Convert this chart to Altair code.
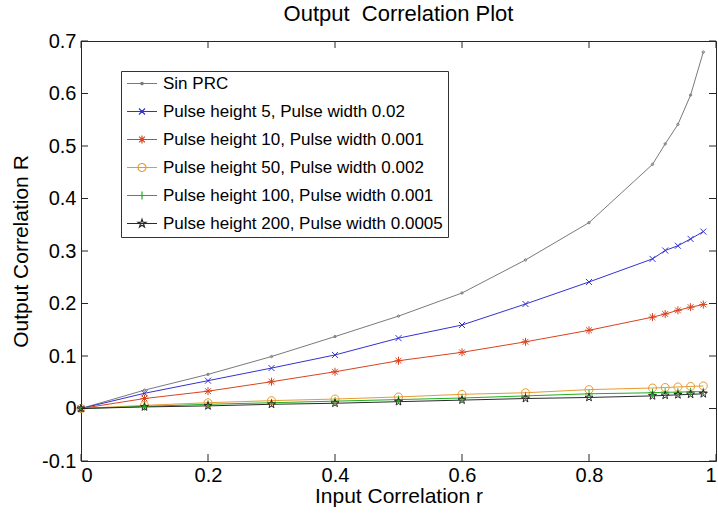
import math
import altair as alt
import pandas as pd

# Input correlation values (x) shared by every curve
r = [0, 0.1, 0.2, 0.3, 0.4, 0.5, 0.6, 0.7, 0.8, 0.9, 0.92, 0.94, 0.96, 0.98]

# Output correlation for each phase response curve
sin_prc = [0, 0.035, 0.065, 0.099, 0.137, 0.176, 0.220, 0.283, 0.354, 0.465, 0.504, 0.541, 0.597, 0.679]
pulse_5 = [0, 0.029, 0.053, 0.077, 0.102, 0.134, 0.159, 0.199, 0.241, 0.285, 0.301, 0.310, 0.323, 0.337]
pulse_10 = [0, 0.019, 0.033, 0.051, 0.070, 0.091, 0.107, 0.127, 0.149, 0.174, 0.180, 0.187, 0.193, 0.198]
pulse_50 = [0, 0.006, 0.011, 0.015, 0.018, 0.022, 0.027, 0.030, 0.036, 0.039, 0.040, 0.041, 0.042, 0.043]
pulse_100 = [0, 0.004, 0.008, 0.011, 0.014, 0.017, 0.020, 0.024, 0.028, 0.030, 0.031, 0.031, 0.032, 0.032]
pulse_200 = [0, 0.003, 0.005, 0.008, 0.010, 0.013, 0.016, 0.019, 0.021, 0.024, 0.025, 0.026, 0.027, 0.028]

series_names = [
    "Sin PRC",
    "Pulse height 5, Pulse width 0.02",
    "Pulse height 10, Pulse width 0.001",
    "Pulse height 50, Pulse width 0.002",
    "Pulse height 100, Pulse width 0.001",
    "Pulse height 200, Pulse width 0.0005",
]
series_values = [sin_prc, pulse_5, pulse_10, pulse_50, pulse_100, pulse_200]
series_colors = ["#7a7a7a", "#3232d2", "#d8431f", "#e89a30", "#1fae1f", "#2a2a2a"]

x_ticks = [0, 0.2, 0.4, 0.6, 0.8, 1]
y_ticks = [-0.1, 0, 0.1, 0.2, 0.3, 0.4, 0.5, 0.6, 0.7]

FONT = "Liberation Sans"
W, H = 635, 420
TICK = 7


# ---- marker outlines, in the unit square [-1, 1] scaled by s ----
def dot(s):
    return f"M{-s},0A{s},{s} 0 1,0 {s},0A{s},{s} 0 1,0 {-s},0Z"


def cross(s):
    return f"M{-s},{-s}L{s},{s}M{-s},{s}L{s},{-s}"


def plus(s):
    return f"M{-s},0L{s},0M0,{-s}L0,{s}"


def asterisk(s):
    d = s * 0.72
    return plus(s) + f"M{-d},{-d}L{d},{d}M{-d},{d}L{d},{-d}"


def ring(s):
    return dot(s)


def pentagram(s):
    pts = []
    for k in range(10):
        ang = -math.pi / 2 + k * math.pi / 5
        rad = s if k % 2 == 0 else s * 0.4
        pts.append(f"{rad * math.cos(ang):.3f},{rad * math.sin(ang):.3f}")
    return "M" + "L".join(pts) + "Z"


markers = [dot, cross, asterisk, ring, plus, pentagram]
marker_half = [1.2, 3, 4, 4, 4, 4.2]   # half size of each marker, px

LEG_W = 30  # legend line length, px
legend_paths = [
    "M-1,0L1,0" + m(h / (LEG_W / 2)) for m, h in zip(markers, marker_half)
]

rows = []
for name, vals in zip(series_names, series_values):
    for i, (x, y) in enumerate(zip(r, vals)):
        rows.append({"series": name, "r": x, "R": y, "order": i})
df = pd.DataFrame(rows)

x_scale = alt.Scale(domain=[0, 1], nice=False, zero=False)
y_scale = alt.Scale(domain=[-0.1, 0.7], nice=False, zero=False)
color_scale = alt.Scale(domain=series_names, range=series_colors)

legend_def = alt.Legend(
    title=None,
    orient="none",
    legendX=40,
    legendY=30,
    padding=5,
    fillColor="white",
    strokeColor="#333333",
    labelFont=FONT,
    labelFontSize=17,
    labelColor="black",
    labelLimit=0,
    labelOffset=5,
    symbolSize=LEG_W ** 2,
    symbolStrokeWidth=1.2,
    clipHeight=15,
    rowPadding=10,
)
color_enc = alt.Color("series:N", scale=color_scale, legend=legend_def)

x_enc = alt.X(
    "r:Q",
    scale=x_scale,
    axis=alt.Axis(
        values=x_ticks,
        title="Input Correlation r",
        labelExpr="format(datum.value, '.1~f')",
        labelPadding=4,
        titlePadding=0,
    ),
)
y_enc = alt.Y(
    "R:Q",
    scale=y_scale,
    axis=alt.Axis(
        values=y_ticks,
        title="Output Correlation R",
        labelExpr="datum.value == 0 ? '0' : (datum.value < 0 ? '-' + format(-datum.value, '.1f') : format(datum.value, '.1f'))",
        labelPadding=5,
        titlePadding=10,
    ),
)

lines = (
    alt.Chart(df)
    .mark_line(strokeWidth=1)
    .encode(x=x_enc, y=y_enc, color=color_enc, order="order:Q")
)

point_layers = []
for name, m, h in zip(series_names, markers, marker_half):
    point_layers.append(
        alt.Chart(df)
        .transform_filter(alt.datum.series == name)
        .mark_point(shape=m(1), size=(2 * h) ** 2, filled=False, opacity=1, strokeWidth=1)
        .encode(x="r:Q", y="R:Q", color=color_enc)
    )

# legend-only layer: carries the line-plus-marker symbols
legend_layer = (
    alt.Chart(df)
    .transform_filter("false")
    .mark_point(filled=False, opacity=1)
    .encode(
        x="r:Q",
        y="R:Q",
        color=color_enc,
        shape=alt.Shape(
            "series:N",
            scale=alt.Scale(domain=series_names, range=legend_paths),
            legend=legend_def,
        ),
    )
)

# inward tick marks on all four sides of the frame
xt = pd.DataFrame({"r": x_ticks})
yt = pd.DataFrame({"R": y_ticks})
tick_color = "#262626"
ticks_bottom = alt.Chart(xt).mark_rule(color=tick_color).encode(
    x="r:Q", y=alt.value(H), y2=alt.value(H - TICK))
ticks_top = alt.Chart(xt).mark_rule(color=tick_color).encode(
    x="r:Q", y=alt.value(0), y2=alt.value(TICK))
ticks_left = alt.Chart(yt).mark_rule(color=tick_color).encode(
    y="R:Q", x=alt.value(0), x2=alt.value(TICK))
ticks_right = alt.Chart(yt).mark_rule(color=tick_color).encode(
    y="R:Q", x=alt.value(W), x2=alt.value(W - TICK))

chart = (
    alt.layer(lines, *point_layers, ticks_bottom, ticks_top, ticks_left, ticks_right, legend_layer)
    .properties(
        width=W,
        height=H,
        background="white",
        title=alt.Title(
            "Output\u00a0 Correlation Plot",
            font=FONT,
            fontSize=22,
            fontWeight="normal",
            color="black",
            anchor="middle",
            offset=5,
        ),
        autosize=alt.AutoSizeParams(type="none"),
        padding={"left": 81, "top": 41, "right": 2, "bottom": 55},
    )
    .configure_view(stroke=tick_color, strokeWidth=1)
    .configure_axis(
        grid=False,
        domain=False,
        ticks=False,
        labelFont=FONT,
        labelFontSize=20,
        labelColor="black",
        titleFont=FONT,
        titleFontSize=21,
        titleFontWeight="normal",
        titleColor="black",
    )
)

chart.save("out.html", embed_options={"renderer": "svg", "actions": False})
